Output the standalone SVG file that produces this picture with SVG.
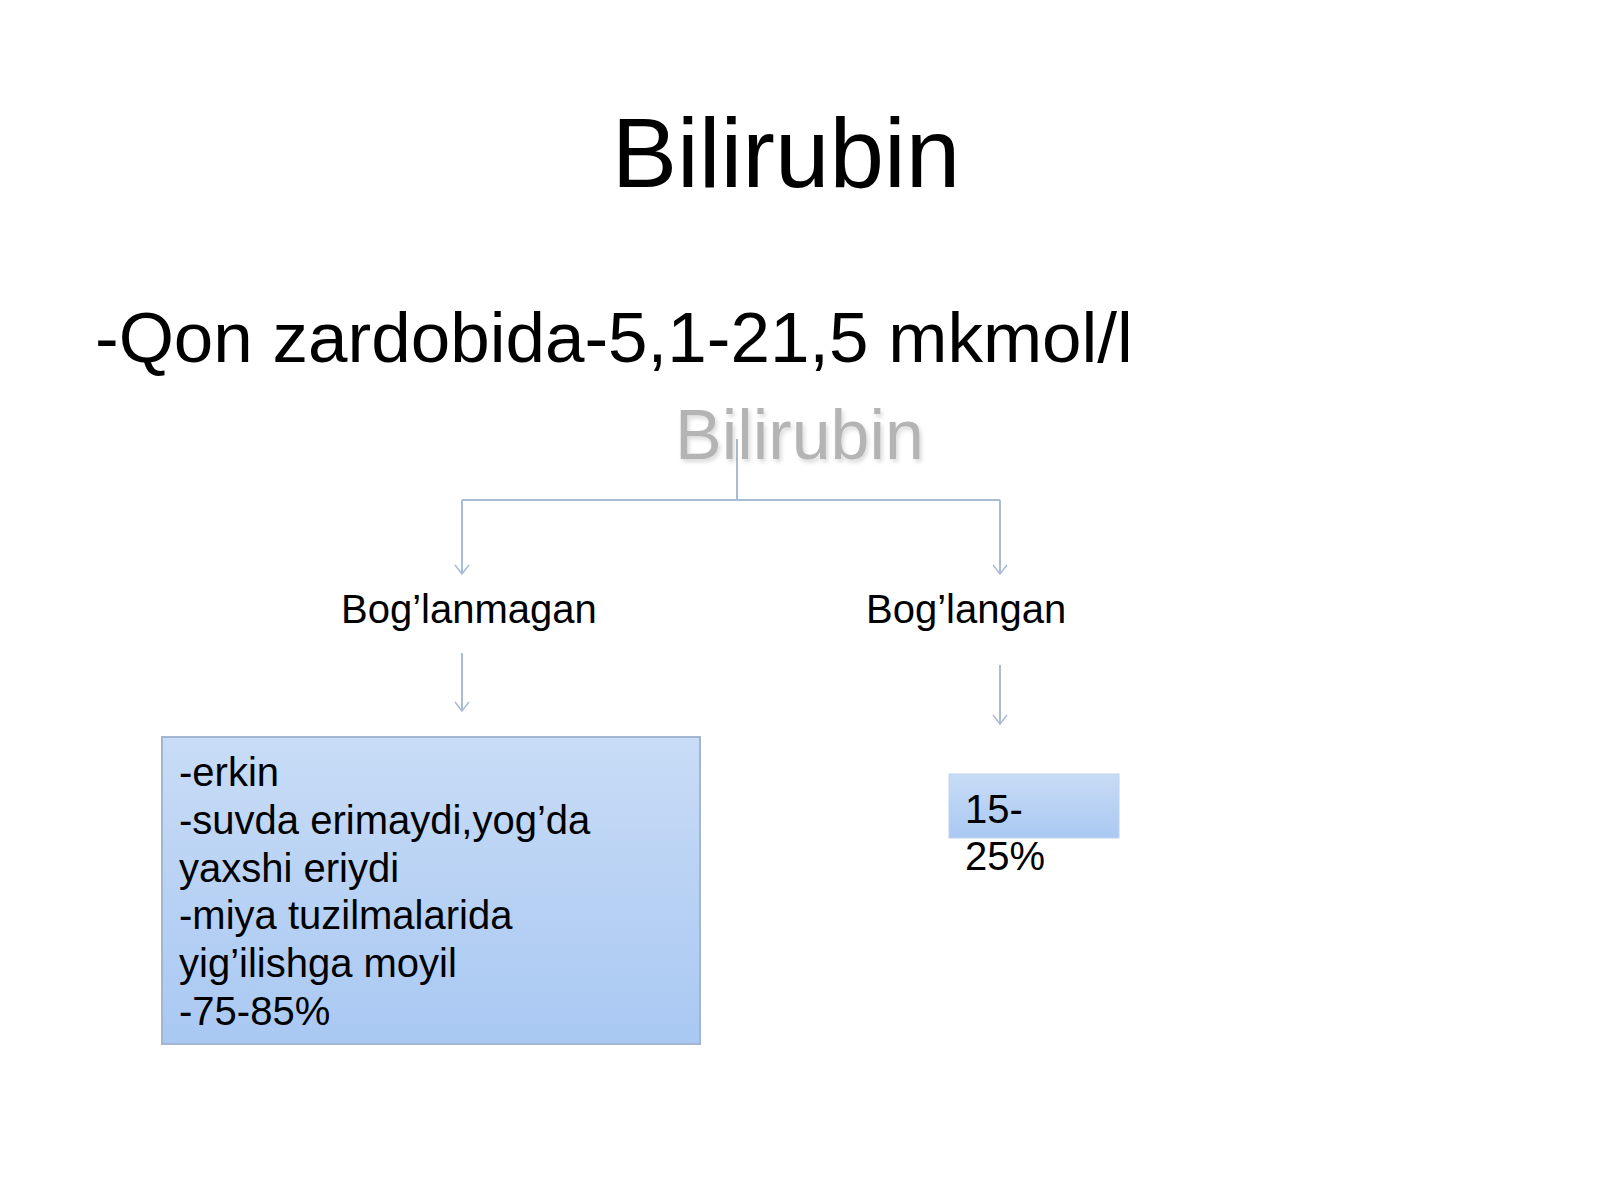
<svg xmlns="http://www.w3.org/2000/svg" width="1600" height="1200" viewBox="0 0 1600 1200">
<style>
text{font-family:"Liberation Sans",Arial,sans-serif;fill:#000}
.lbl{font-size:40px}
.con{fill:none;stroke:#a9bcd6;stroke-width:2}
.box{stroke:#a3b6cf;stroke-width:2}
</style>
<defs>
<linearGradient id="g1" x1="0" y1="0" x2="0" y2="1">
<stop offset="0" stop-color="#c8dcf6"/>
<stop offset="1" stop-color="#a9c8f2"/>
</linearGradient>
<filter id="sh" x="-10%" y="-20%" width="120%" height="140%">
<feGaussianBlur in="SourceAlpha" stdDeviation="2"/>
<feOffset dx="2" dy="3" result="b"/>
<feComponentTransfer><feFuncA type="linear" slope="0.15"/></feComponentTransfer>
<feMerge><feMergeNode/><feMergeNode in="SourceGraphic"/></feMerge>
</filter>
<marker id="ar" markerWidth="16" markerHeight="18" refX="13" refY="9" orient="auto" markerUnits="userSpaceOnUse">
<path d="M4,2 L13,9 L4,16" fill="none" stroke="#a9bcd6" stroke-width="1.5"/>
</marker>
</defs>
<rect width="1600" height="1200" fill="#fff"/>
<g id="title"><text x="786" y="187" font-size="98" text-anchor="middle">Bilirubin</text></g>
<g id="subtitle"><text x="95" y="362" font-size="71">-Qon zardobida-5,1-21,5 mkmol/l</text></g>
<g id="connectors">
<path class="con" d="M737,439 V500"/>
<path class="con" d="M462,500 H1000"/>
<path class="con" d="M462,500 V574" marker-end="url(#ar)"/>
<path class="con" d="M1000,500 V574" marker-end="url(#ar)"/>
<path class="con" d="M462,653 V711" marker-end="url(#ar)"/>
<path class="con" d="M1000,665 V724" marker-end="url(#ar)"/>
</g>
<g id="root"><text x="675" y="459" font-size="70" style="fill:#b4b4b4" filter="url(#sh)">Bilirubin</text></g>
<g id="unconj"><text class="lbl" x="341" y="623">Bog’lanmagan</text></g>
<g id="conj"><text class="lbl" x="866" y="623">Bog’langan</text></g>
<g id="box1">
<rect class="box" x="162" y="737" width="538" height="307" fill="url(#g1)"/>
<text class="lbl" x="179" y="786">-erkin</text>
<text class="lbl" x="179" y="834">-suvda erimaydi,yog’da</text>
<text class="lbl" x="179" y="882">yaxshi eriydi</text>
<text class="lbl" x="179" y="929">-miya tuzilmalarida</text>
<text class="lbl" x="179" y="977">yig’ilishga moyil</text>
<text class="lbl" x="179" y="1025">-75-85%</text>
</g>
<g id="box2">
<rect x="949" y="774" width="170" height="64" fill="url(#g1)" stroke="#c0d3ec" stroke-width="1"/>
<text class="lbl" x="965" y="823">15-</text>
<text class="lbl" x="965" y="870">25%</text>
</g>
</svg>
